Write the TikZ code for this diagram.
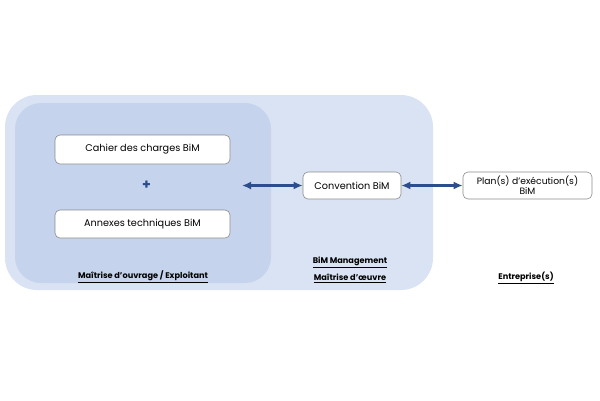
\documentclass[tikz,border=0pt]{standalone}
\usepackage{fontspec}
\setmainfont{Poppins}
\usetikzlibrary{arrows.meta}
\definecolor{outerbg}{HTML}{DAE3F3}
\definecolor{innerbg}{HTML}{C5D3EC}
\definecolor{arrowc}{HTML}{2D4E8C}
\definecolor{boxline}{HTML}{8C8C8C}
\tikzset{
  docbox/.style={draw=boxline, line width=0.6pt, fill=white, rounded corners=5pt, font=\fontsize{9.7}{10.5}\selectfont, align=center, inner sep=0pt},
  lbl/.style={font=\fontsize{8.2}{9}\selectfont\bfseries, inner sep=0pt},
  dbl/.style={{Latex[length=9pt,width=8pt]}-{Latex[length=9pt,width=8pt]}, line width=2.6pt, arrowc}
}
\begin{document}
\begin{tikzpicture}[x=1pt,y=-1pt]
\useasboundingbox (0,0) rectangle (600,400);
\fill[outerbg, rounded corners=32pt] (5,95) rectangle (433,290);
\fill[innerbg, rounded corners=26pt] (15,103) rectangle (271,283);
\node[docbox, minimum width=175pt, minimum height=29pt] (cdc) at (142.5,149.5) {Cahier des charges BiM};
\node[font=\fontsize{14}{14}\selectfont\bfseries, text=arrowc] (plus) at (146.5,185.5) {+};
\node[docbox, minimum width=175pt, minimum height=28pt] (ann) at (142.5,224) {Annexes techniques BiM};
\node[lbl] (moa) at (143,277) {\underline{Maîtrise d’ouvrage / Exploitant}};
\coordinate (a1) at (242,185.5);
\node[docbox, minimum width=98pt, minimum height=27pt] (conv) at (352,185.5) {Convention BiM};
\node[docbox, minimum width=129pt, minimum height=27pt, font=\fontsize{9.2}{10}\selectfont] (plan) at (527.5,185.5) {Plan(s) d’exécution(s)\\BiM};
\draw[dbl] (a1) -- (conv.west);
\draw[dbl] (conv.east) -- (plan.west);
\node[lbl] (bim) at (350,262) {\underline{BiM Management}};
\node[lbl] (moe) at (350,278) {\underline{Maîtrise d’œuvre}};
\node[lbl] (ent) at (526,278) {\underline{Entreprise(s)}};
\end{tikzpicture}
\end{document}
